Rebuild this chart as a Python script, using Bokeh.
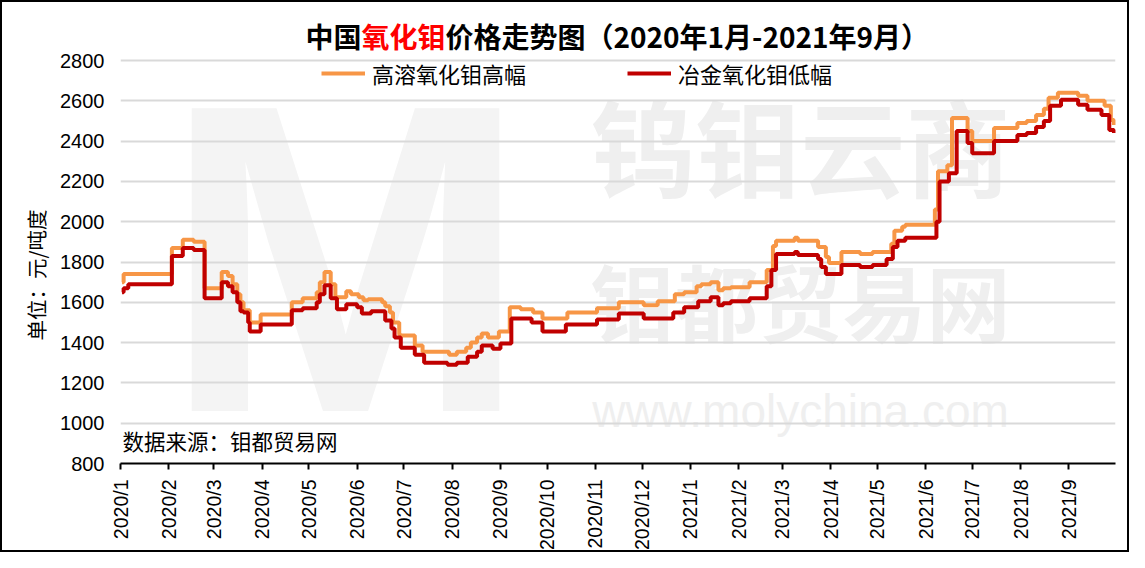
import pandas as pd
from math import pi
from bokeh.plotting import figure
from bokeh.models import Range1d, FixedTicker, Label, Legend, LegendItem, Title
from bokeh.embed import file_html
from bokeh.resources import INLINE

# ---------------- data ----------------
tick_labels = ["2020/1", "2020/2", "2020/3", "2020/4", "2020/5", "2020/6", "2020/7",
               "2020/8", "2020/9", "2020/10", "2020/11", "2020/12", "2021/1", "2021/2",
               "2021/3", "2021/4", "2021/5", "2021/6", "2021/7", "2021/8", "2021/9"]
y_ticks = [800, 1000, 1200, 1400, 1600, 1800, 2000, 2200, 2400, 2600, 2800]

high_dates = ["2020-01-02", "2020-01-03", "2020-02-03", "2020-02-10", "2020-02-17", "2020-02-24",
              "2020-03-06", "2020-03-10", "2020-03-13", "2020-03-16", "2020-03-18", "2020-03-20",
              "2020-03-24", "2020-03-31", "2020-04-20", "2020-04-27", "2020-05-06", "2020-05-08",
              "2020-05-11", "2020-05-15", "2020-05-18", "2020-05-25", "2020-05-28", "2020-06-02",
              "2020-06-05", "2020-06-08", "2020-06-17", "2020-06-19", "2020-06-22", "2020-06-24",
              "2020-06-28", "2020-06-29", "2020-07-08", "2020-07-13", "2020-07-30", "2020-08-04",
              "2020-08-10", "2020-08-13", "2020-08-17", "2020-08-20", "2020-08-24", "2020-08-31",
              "2020-09-07", "2020-09-14", "2020-09-22", "2020-09-28", "2020-10-14", "2020-11-02",
              "2020-11-16", "2020-12-02", "2020-12-11", "2020-12-22", "2020-12-28", "2021-01-05",
              "2021-01-08", "2021-01-14", "2021-01-19", "2021-01-22", "2021-01-27", "2021-02-08",
              "2021-02-19", "2021-02-23", "2021-02-25", "2021-03-09", "2021-03-11", "2021-03-24",
              "2021-03-29", "2021-03-31", "2021-04-08", "2021-04-20", "2021-04-28", "2021-05-10",
              "2021-05-12", "2021-05-17", "2021-05-19", "2021-06-07", "2021-06-09", "2021-06-15",
              "2021-06-18", "2021-06-28", "2021-07-01", "2021-07-15", "2021-07-30", "2021-08-05",
              "2021-08-11", "2021-08-16", "2021-08-19", "2021-08-25", "2021-09-07", "2021-09-13",
              "2021-09-24", "2021-09-28", "2021-09-30"]
high_vals = [1700, 1740, 1870, 1910, 1900, 1670,
             1750, 1730, 1690, 1640, 1600, 1560,
             1500, 1540, 1600, 1620, 1650, 1700,
             1750, 1690, 1625, 1655, 1640, 1625,
             1610, 1615, 1600, 1580, 1550, 1500,
             1440, 1435, 1385, 1355, 1340, 1355,
             1375, 1400, 1425, 1445, 1425, 1455,
             1575, 1565, 1550, 1520, 1550, 1570,
             1600, 1585, 1605, 1640, 1650, 1680,
             1690, 1700, 1660, 1670, 1675, 1700,
             1760, 1880, 1905, 1920, 1905, 1875,
             1825, 1795, 1850, 1840, 1850, 1890,
             1955, 1975, 1985, 2060, 2250, 2280,
             2515, 2450, 2400, 2465, 2490, 2500,
             2530, 2560, 2615, 2640, 2625, 2600,
             2575, 2505, 2480]

low_dates = ["2020-01-02", "2020-01-03", "2020-01-06", "2020-02-03", "2020-02-10", "2020-02-17",
             "2020-02-24", "2020-03-06", "2020-03-10", "2020-03-13", "2020-03-16", "2020-03-18",
             "2020-03-20", "2020-03-23", "2020-03-24", "2020-03-31", "2020-04-20", "2020-04-27",
             "2020-05-06", "2020-05-08", "2020-05-11", "2020-05-15", "2020-05-19", "2020-05-25",
             "2020-06-01", "2020-06-04", "2020-06-10", "2020-06-19", "2020-06-23", "2020-06-25",
             "2020-06-29", "2020-07-08", "2020-07-14", "2020-07-29", "2020-08-04", "2020-08-11",
             "2020-08-17", "2020-08-20", "2020-08-27", "2020-09-01", "2020-09-08", "2020-09-21",
             "2020-09-28", "2020-10-13", "2020-11-02", "2020-11-16", "2020-12-02", "2020-12-21",
             "2020-12-28", "2021-01-06", "2021-01-14", "2021-01-19", "2021-01-22", "2021-01-27",
             "2021-02-08", "2021-02-19", "2021-02-22", "2021-02-25", "2021-03-09", "2021-03-11",
             "2021-03-24", "2021-03-26", "2021-03-29", "2021-04-08", "2021-04-20", "2021-04-28",
             "2021-05-07", "2021-05-11", "2021-05-14", "2021-05-19", "2021-06-08", "2021-06-10",
             "2021-06-16", "2021-06-21", "2021-06-28", "2021-07-01", "2021-07-15", "2021-07-30",
             "2021-08-05", "2021-08-11", "2021-08-16", "2021-08-20", "2021-08-27", "2021-09-07",
             "2021-09-13", "2021-09-22", "2021-09-27", "2021-09-30"]
low_vals = [1650, 1670, 1690, 1830, 1870, 1860,
            1620, 1700, 1680, 1650, 1600, 1555,
            1550, 1500, 1455, 1490, 1560, 1570,
            1600, 1640, 1685, 1620, 1565, 1590,
            1575, 1545, 1555, 1510, 1470, 1425,
            1375, 1340, 1300, 1290, 1300, 1330,
            1355, 1385, 1370, 1395, 1520, 1500,
            1455, 1490, 1515, 1545, 1520, 1550,
            1575, 1605, 1625, 1585, 1595, 1605,
            1620, 1680, 1760, 1840, 1850, 1835,
            1815, 1775, 1740, 1785, 1775, 1785,
            1815, 1875, 1905, 1920, 2000, 2200,
            2240, 2450, 2390, 2340, 2400, 2430,
            2440, 2470, 2500, 2575, 2605, 2580,
            2555, 2530, 2455, 2440]

series_names = ["高溶氧化钼高幅", "冶金氧化钼低幅"]
series_colors = ["#F79646", "#C00000"]

# ---------------- helpers ----------------
BASE = pd.Timestamp("2020-01-01")
END = pd.Timestamp("2021-10-01")


def to_days(ds):
    return [int((pd.Timestamp(d) - BASE).days) for d in ds]


tick_days = [int((pd.to_datetime(t + "/1", format="%Y/%m/%d") - BASE).days) for t in tick_labels]

CJK = "Noto Sans CJK SC"
LAT = "Liberation Sans"

# layout: canvas 1129x552 drawn 2px inside a border; values 800..2800 span page y 463..60
CANVAS_H = 552
BOTTOM = 91
FRAME_H = CANVAS_H - BOTTOM          # frame reaches the top so the title can sit inside it
VALUE_PX = 403                        # pixels used by 800..2800
y_lo, y_hi = y_ticks[0], y_ticks[-1]
y_top = y_lo + (y_hi - y_lo) * FRAME_H / VALUE_PX

p = figure(width=1129, height=CANVAS_H,
           x_range=Range1d(0, int((END - BASE).days)), y_range=Range1d(y_lo, y_top),
           output_backend="svg", toolbar_location=None,
           min_border_left=118, min_border_right=16, min_border_top=0, min_border_bottom=BOTTOM)
p.outline_line_color = None
p.background_fill_color = "white"
p.border_fill_color = "white"
p.styles = {"border": "2px solid black"}

p.xgrid.visible = False
p.ygrid.grid_line_color = "#D9D9D9"
p.ygrid.grid_line_width = 2

p.yaxis.ticker = FixedTicker(ticks=y_ticks)
p.yaxis.axis_line_color = None
p.yaxis.major_tick_line_color = None
p.yaxis.major_tick_out = 0
p.yaxis.major_tick_in = 0
p.yaxis.minor_tick_line_color = None
p.yaxis.major_label_text_font = LAT
p.yaxis.major_label_text_font_size = "20px"
p.yaxis.major_label_text_color = "black"
p.yaxis.major_label_standoff = 16

p.xaxis.ticker = FixedTicker(ticks=tick_days)
p.xaxis.major_label_overrides = {d: t for d, t in zip(tick_days, tick_labels)}
p.xaxis.major_label_orientation = pi / 2
p.xaxis.major_label_text_font = LAT
p.xaxis.major_label_text_font_size = "19.5px"
p.xaxis.major_label_text_color = "black"
p.xaxis.major_label_standoff = 10
p.xaxis.axis_line_color = "black"
p.xaxis.axis_line_width = 2
p.xaxis.major_tick_line_color = "black"
p.xaxis.major_tick_line_width = 2
p.xaxis.major_tick_out = 6
p.xaxis.major_tick_in = 0
p.xaxis.minor_tick_line_color = None

# y unit label as a side title
p.add_layout(Title(text="单位：元/吨度", text_font=CJK, text_font_style="normal",
                   text_font_size="20.5px", text_color="black", align="left",
                   offset=123, standoff=14), "left")


# frame-relative screen helpers (frame left at page x 120, bottom at page y 463)
def fx(page_x):
    return page_x - 120


def fy(page_y):
    return 463 - page_y


# watermark (behind grid)
wm = "#EFEFEF"
p.add_layout(Label(x=fx(345), y=fy(258), x_units="screen", y_units="screen", text="M",
                   text_font=LAT, text_font_style="bold", text_font_size="440px",
                   text_color="#F4F4F4", text_align="center", text_baseline="middle", level="image"))
p.add_layout(Label(x=fx(800), y=fy(142), x_units="screen", y_units="screen", text="钨钼云商",
                   text_font=CJK, text_font_style="bold", text_font_size="105px",
                   text_color=wm, text_align="center", text_baseline="middle", level="image"))
p.add_layout(Label(x=fx(800), y=fy(299), x_units="screen", y_units="screen", text="钼都贸易网",
                   text_font=CJK, text_font_style="bold", text_font_size="84px",
                   text_color=wm, text_align="center", text_baseline="middle", level="image"))
p.add_layout(Label(x=fx(800), y=fy(410), x_units="screen", y_units="screen", text="www.molychina.com",
                   text_font=LAT, text_font_size="46px",
                   text_color=wm, text_align="center", text_baseline="middle", level="image"))

# series
r_high = p.step(to_days(high_dates), high_vals, mode="after", line_width=4, line_color=series_colors[0])
r_low = p.step(to_days(low_dates), low_vals, mode="after", line_width=4, line_color=series_colors[1])

legend = Legend(items=[LegendItem(label=series_names[0], renderers=[r_high]),
                       LegendItem(label=series_names[1], renderers=[r_low])],
                orientation="horizontal", location=(fx(321), fy(77) - 12),
                padding=0, margin=0, spacing=101, label_standoff=7,
                glyph_width=44, glyph_height=22, label_height=22,
                label_text_font=CJK, label_text_font_size="22px", label_text_color="black",
                background_fill_alpha=0, border_line_color=None)
p.add_layout(legend, "center")

# title pieces
title_parts = [("中国", "black", 305), ("氧化钼", "#FF0000", 361), ("价格走势图（2020年1月-2021年9月）", "black", 445)]
for txt, col, px in title_parts:
    p.add_layout(Label(x=fx(px), y=fy(35), x_units="screen", y_units="screen", text=txt,
                       text_font=CJK, text_font_style="bold", text_font_size="28px",
                       text_color=col, text_align="left", text_baseline="middle"))

# source note
p.add_layout(Label(x=fx(122), y=fy(440), x_units="screen", y_units="screen", text="数据来源：钼都贸易网",
                   text_font=CJK, text_font_size="21.5px", text_color="black",
                   text_align="left", text_baseline="middle"))

open("out.html", "w").write(file_html(p, INLINE))
